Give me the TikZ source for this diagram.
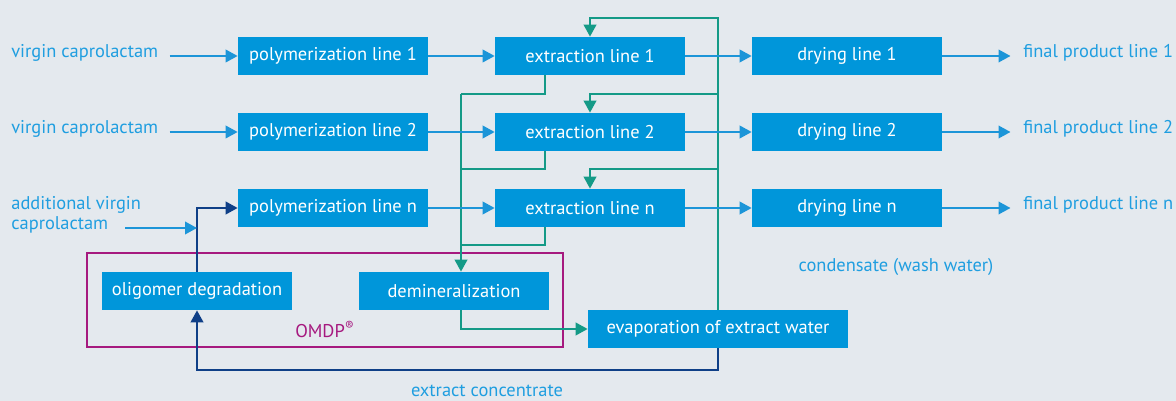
\documentclass[tikz,border=0pt]{standalone}
\usepackage{fontspec}
\setmainfont{PT Sans}
\usetikzlibrary{arrows.meta}
\definecolor{bgcol}{HTML}{E4E9EE}
\definecolor{boxblue}{HTML}{0096DA}
\definecolor{lblblue}{HTML}{1F9EE0}
\definecolor{arrblue}{HTML}{1C95D8}
\definecolor{gteal}{HTML}{149A87}
\definecolor{dnavy}{HTML}{0F3F87}
\definecolor{omdpcol}{HTML}{A6197F}

\begin{document}
\begin{tikzpicture}[
  x=0.02cm, y=-0.02cm,
  font=\fontsize{10.5}{11.5}\selectfont,
  >={Triangle[length=0.24cm,width=0.25cm]},
  procbox/.style={fill=boxblue, text=white, minimum width=3.8cm, minimum height=0.76cm, inner sep=0pt},
  lbl/.style={text=lblblue, inner sep=0pt, anchor=west},
  arr/.style={->, line width=1.2pt, draw=arrblue},
  garr/.style={line width=1.3pt, draw=gteal},
  darr/.style={->, line width=1.3pt, draw=dnavy}
]
\useasboundingbox[fill=bgcol] (0,0) rectangle (1176,401);

\node[procbox] (poly1) at (333,56) {polymerization line 1};
\node[procbox] (poly2) at (333,132) {polymerization line 2};
\node[procbox] (polyn) at (333,208) {polymerization line n};
\node[procbox] (ext1) at (590,56) {extraction line 1};
\node[procbox] (ext2) at (590,132) {extraction line 2};
\node[procbox] (extn) at (590,208) {extraction line n};
\node[procbox] (dry1) at (847,56) {drying line 1};
\node[procbox] (dry2) at (847,132) {drying line 2};
\node[procbox] (dryn) at (847,208) {drying line n};
\node[procbox] (olig) at (197,291) {oligomer degradation};
\node[procbox] (demin) at (454,291) {demineralization};
\node[procbox, minimum width=5.2cm] (evap) at (718,329) {evaporation of extract water};

\node[lbl] (in1) at (11,53) {virgin caprolactam};
\node[lbl] (in2) at (11,129) {virgin caprolactam};
\node[lbl, align=left] (in3) at (11,215) {additional virgin\\caprolactam};
\node[lbl] (out1) at (1023,53) {final product line 1};
\node[lbl] (out2) at (1023,129) {final product line 2};
\node[lbl] (outn) at (1023,205) {final product line n};
\node[lbl, anchor=center] (cond) at (896,267) {condensate (wash water)};
\node[lbl, anchor=center] (conc) at (487,391) {extract concentrate};

\node[draw=omdpcol, line width=1.4pt, minimum width=9.52cm, minimum height=1.88cm, inner sep=0pt] (omdpbox) at (325,300) {};
\node[text=omdpcol, inner sep=0pt] (omdp) at (325,329) {OMDP\textsuperscript{®}};

\coordinate (gcol) at (461,94);
\coordinate (gtop) at (0,18);
\coordinate (retn) at (0,370);
\coordinate (addin) at (125,228);

\foreach \r/\y in {1/94,2/169,n/245}
  \draw[garr] ([xshift=-0.9cm]ext\r.south) |- (gcol |- 0,\y);
\draw[garr, ->] (gcol) -- (gcol |- demin.north);
\draw[garr, ->] (gcol |- demin.south) |- (evap.west);
\draw[garr, ->] (evap.north) |- (ext1.north |- gtop) -- (ext1.north);
\foreach \r/\y in {2/94,n/169}
  \draw[garr, ->] (evap.north |- 0,\y) -| (ext\r.north);

\draw[darr] (olig.north) |- (polyn.west);
\draw[darr] (evap.south) -- (evap.south |- retn) -| (olig.south);

\draw[arr] (in1.east |- poly1) ++(0.22cm,0) -- (poly1.west);
\draw[arr] (in2.east |- poly2) ++(0.22cm,0) -- (poly2.west);
\draw[arr] (addin) -- (addin -| olig.north);
\foreach \r in {1,2,n} {
  \draw[arr] (poly\r) -- (ext\r);
  \draw[arr] (ext\r) -- (dry\r);
  \draw[arr, shorten >=0.25cm] (dry\r.east) -- (dry\r.east -| out\r.west);
}
\end{tikzpicture}
\end{document}
